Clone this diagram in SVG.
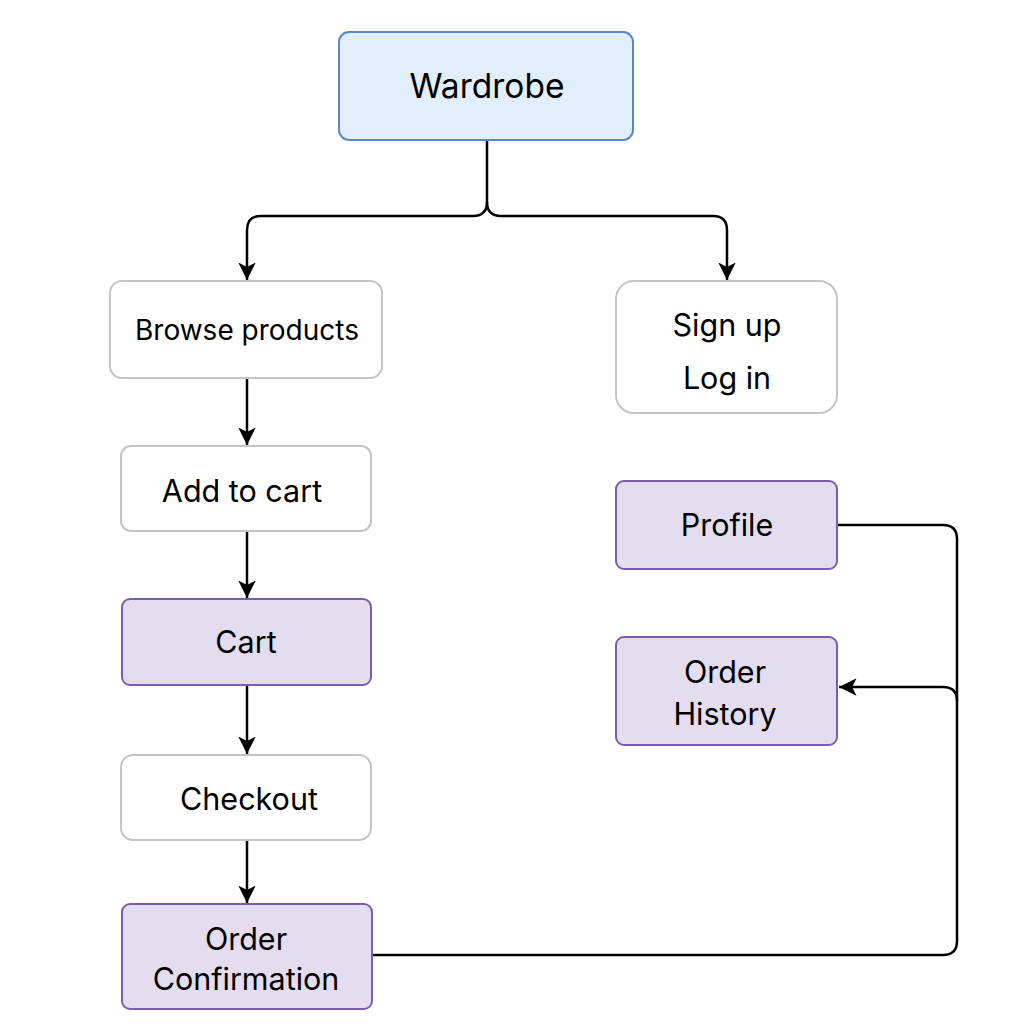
<svg xmlns="http://www.w3.org/2000/svg" width="1024" height="1024" viewBox="0 0 1024 1024">
<style>
text{font-family:Inter,"Noto Sans",sans-serif;font-size:30.5px;font-weight:400;fill:#000;text-anchor:middle;dominant-baseline:central}
.w rect{fill:#fff;stroke:#c4c4c4;stroke-width:2}
.p rect{fill:#e4ddef;stroke:#7b5ea6;stroke-width:2}
.b rect{fill:#e2eefc;stroke:#5b86c8;stroke-width:2}
.c path{fill:none;stroke:#000;stroke-width:2.5}
</style>
<defs>
<marker id="ah" viewBox="0 0 10 10" refX="10" refY="5" markerWidth="7" markerHeight="7" markerUnits="strokeWidth" orient="auto">
<path d="M0,0 L10,5 L0,10 L2.5,5 Z" fill="#000"/>
</marker>
</defs>
<rect width="1024" height="1024" fill="#fff"/>
<g class="c">
<path d="M487,141 V202 Q487,216 473,216 H261 Q247,216 247,230 V280" marker-end="url(#ah)"/>
<path d="M487,202 Q487,216 501,216 H713 Q727,216 727,230 V280" marker-end="url(#ah)"/>
<path d="M247,379 V445" marker-end="url(#ah)"/>
<path d="M247,532 V598" marker-end="url(#ah)"/>
<path d="M247,686 V754" marker-end="url(#ah)"/>
<path d="M247,841 V903" marker-end="url(#ah)"/>
<path d="M373,955 H943 Q957,955 957,941 V539 Q957,525 943,525 H838"/>
<path d="M957,701 Q957,687 943,687 H839" marker-end="url(#ah)"/>
</g>
<g id="wardrobe" class="b"><rect x="339" y="32" width="294" height="108" rx="10"/><text x="487" y="86" style="font-size:33.5px">Wardrobe</text></g>
<g id="browse" class="w"><rect x="110" y="281" width="272" height="97" rx="12"/><text x="247" y="330" style="font-size:28px">Browse products</text></g>
<g id="auth" class="w"><rect x="616" y="281" width="221" height="132" rx="18"/><text x="727" y="324">Sign up</text><text x="727" y="377">Log in</text></g>
<g id="addcart" class="w"><rect x="121" y="446" width="250" height="85" rx="10"/><text x="242" y="490">Add to cart</text></g>
<g id="profile" class="p"><rect x="616" y="481" width="221" height="88" rx="8"/><text x="727" y="524">Profile</text></g>
<g id="cart" class="p"><rect x="122" y="599" width="249" height="86" rx="8"/><text x="246" y="641">Cart</text></g>
<g id="history" class="p"><rect x="616" y="637" width="221" height="108" rx="8"/><text x="725" y="671">Order</text><text x="725" y="713">History</text></g>
<g id="checkout" class="w"><rect x="121" y="755" width="250" height="85" rx="12"/><text x="249" y="798">Checkout</text></g>
<g id="confirm" class="p"><rect x="122" y="904" width="250" height="105" rx="8"/><text x="246" y="938">Order</text><text x="246" y="978">Confirmation</text></g>
</svg>
